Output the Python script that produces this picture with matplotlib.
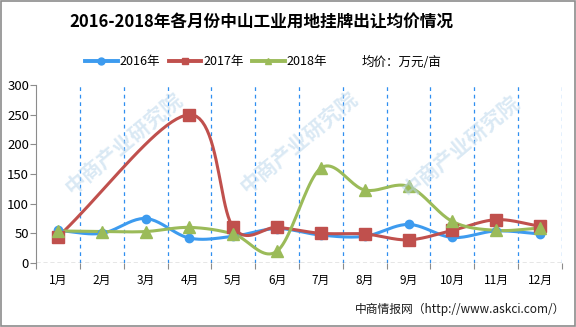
import numpy as np
import matplotlib.pyplot as plt
from matplotlib.patches import Rectangle

plt.rcParams['font.family'] = ['Noto Sans CJK SC', 'DejaVu Sans']

months = ['1月', '2月', '3月', '4月', '5月', '6月', '7月', '8月', '9月', '10月', '11月', '12月']
price_2016 = [55, 50, 75, 42, 45, 58, 47, 45, 65, 43, 54, 49]
price_2017 = [44, None, None, 250, 60, 60, 50, 49, 39, 55, 73, 62]
price_2018 = [54, 53, 53, 60, 49, 20, 160, 123, 129, 70, 55, 59]


def smooth(xs, ys, n=24):
    # Catmull-Rom spline through the points, like a smoothed line chart
    xs = np.asarray(xs, float)
    ys = np.asarray(ys, float)
    px = np.concatenate([[2 * xs[0] - xs[1]], xs, [2 * xs[-1] - xs[-2]]])
    py = np.concatenate([[2 * ys[0] - ys[1]], ys, [2 * ys[-1] - ys[-2]]])
    out_x, out_y = [], []
    t = np.linspace(0, 1, n)
    for i in range(1, len(px) - 2):
        for p, o in ((px, out_x), (py, out_y)):
            p0, p1, p2, p3 = p[i - 1], p[i], p[i + 1], p[i + 2]
            o.extend(0.5 * ((2 * p1) + (-p0 + p2) * t
                            + (2 * p0 - 5 * p1 + 4 * p2 - p3) * t ** 2
                            + (-p0 + 3 * p1 - 3 * p2 + p3) * t ** 3))
    return np.array(out_x), np.array(out_y)


fig = plt.figure(figsize=(5.76, 3.27), dpi=100)
fig.patch.set_facecolor('white')
fig.patches.append(Rectangle((0.001, 0.002), 0.997, 0.995, transform=fig.transFigure,
                             fill=False, edgecolor='#8c8c8c', linewidth=1.2))

# background watermark
for cx, cy in [(123, 143), (298, 142), (460, 146)]:
    fig.text(cx / 576, 1 - cy / 327, '中商产业研究院', rotation=40, ha='center', va='center',
             fontsize=15, color='#bcd7ec', alpha=0.55, fontweight='bold', zorder=0)

ax = fig.add_axes([36 / 576, 1 - 263 / 327, 526 / 576, 178 / 327])
ax.set_facecolor('none')
ax.set_xlim(0, 12)
ax.set_ylim(0, 300)

x = np.arange(12) + 0.5
series = [
    (price_2016, '#3d9bef', 'o', 6, '2016年'),
    (price_2017, '#c0504d', 's', 8, '2017年'),
    (price_2018, '#9bbb59', '^', 8, '2018年'),
]
handles = []
for vals, color, marker, ms, label in series:
    pts = [(xi, v) for xi, v in zip(x, vals) if v is not None]
    xs, ys = zip(*pts)
    sx, sy = smooth(xs, ys)
    ax.plot(sx, sy, color=color, linewidth=2.2, zorder=3)
    ax.plot(xs, ys, linestyle='none', marker=marker, markersize=ms, color=color, zorder=4)
    h, = ax.plot([], [], color=color, linewidth=2.8, marker=marker, markersize=5, label=label)
    handles.append(h)

for b in range(1, 13):
    ax.axvline(b, color='#2f8ff0', linestyle=(0, (3, 3)), linewidth=0.9, zorder=1)

for s in ['top', 'right', 'bottom']:
    ax.spines[s].set_visible(False)
ax.spines['left'].set_color('#8c8c8c')
ax.axhline(0, color='#808080', linestyle=(0, (3, 2)), linewidth=1, zorder=2)

ax.set_yticks(range(0, 301, 50))
ax.tick_params(axis='y', length=4, color='#8c8c8c', labelsize=9.5, pad=1)
ax.set_xticks(range(0, 13))
ax.set_xticklabels([])
ax.tick_params(axis='x', length=4, color='#8c8c8c', direction='out')
ax.set_xticks(x, minor=True)
ax.set_xticklabels(months, minor=True, fontsize=8.5)
ax.tick_params(axis='x', which='minor', length=0, pad=8)

fig.text(261 / 576, 1 - 22 / 327, '2016-2018年各月份中山工业用地挂牌出让均价情况', ha='center', va='center',
         fontsize=12, fontweight='bold')

fig.legend(handles=handles, loc='center', bbox_to_anchor=(206 / 576, 1 - 62 / 327), ncol=3,
           frameon=False, fontsize=9, handlelength=2.6, handletextpad=0.15, columnspacing=0.7)
fig.text(362 / 576, 1 - 62 / 327, '均价：万元/亩', ha='left', va='center', fontsize=9)

fig.text(565 / 576, 1 - 309 / 327, '中商情报网（http://www.askci.com/）', ha='right', va='center',
         fontsize=8.5, color='#1a1a1a')

fig.savefig('out.png', dpi=100)
